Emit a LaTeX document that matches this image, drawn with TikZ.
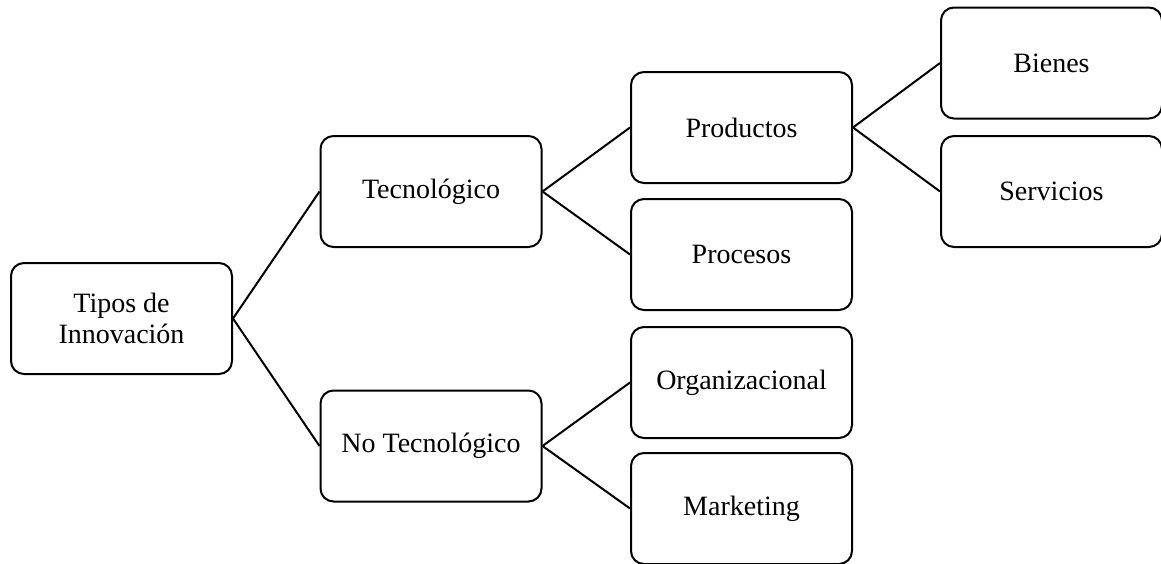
\documentclass[tikz,border=0pt]{standalone}
\usepackage{fontspec}
\setmainfont{Liberation Serif}
\begin{document}
\begin{tikzpicture}[x=1pt,y=-1pt,
  box/.style={draw=black, line width=2pt, rounded corners=13pt, minimum width=221pt, minimum height=111pt, inner sep=0pt, align=center, font=\fontsize{28}{31}\selectfont, fill=white},
  link/.style={draw=black, line width=2pt}]
\useasboundingbox (0,0) rectangle (1161,563);
\node[box] (root) at (121.5,318.5) {Tipos de\\Innovación};
\node[box] (tec) at (431,191.5) {Tecnológico};
\node[box] (notec) at (431,446) {No Tecnológico};
\node[box] (prod) at (741.5,127.5) {Productos};
\node[box] (proc) at (741.5,254.5) {Procesos};
\node[box] (org) at (741.5,382.5) {Organizacional};
\node[box] (mkt) at (741.5,508.5) {Marketing};
\node[box] (bien) at (1051.5,63) {Bienes};
\node[box] (serv) at (1051.5,191.5) {Servicios};
\draw[link] (root.east) -- (tec.west);
\draw[link] (root.east) -- (notec.west);
\draw[link] (tec.east) -- (prod.west);
\draw[link] (tec.east) -- (proc.west);
\draw[link] (notec.east) -- (org.west);
\draw[link] (notec.east) -- (mkt.west);
\draw[link] (prod.east) -- (bien.west);
\draw[link] (prod.east) -- (serv.west);
\end{tikzpicture}
\end{document}
